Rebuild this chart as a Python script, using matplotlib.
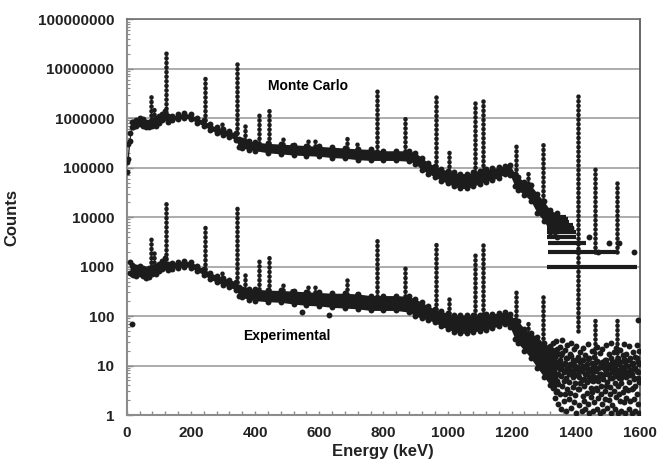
import numpy as np
import matplotlib
matplotlib.use("Agg")
import matplotlib.pyplot as plt
from matplotlib.ticker import FixedLocator, MultipleLocator, LogLocator, FuncFormatter, NullFormatter

plt.rcParams['font.family'] = ['Liberation Sans', 'DejaVu Sans']

# ---------------- data ----------------
energy_grid = [0, 5, 10, 15, 20, 30, 40, 50, 60, 70, 80, 90, 100, 110, 120, 130, 140, 160, 180, 200,
               220, 240, 260, 280, 300, 320, 340, 350, 360, 380, 400, 440, 480, 520, 560, 600, 640,
               680, 720, 760, 800, 840, 880, 900, 920, 940, 960, 980, 1000, 1020, 1040, 1060, 1080,
               1100, 1120, 1140, 1160, 1180, 1195, 1210, 1220, 1240, 1260, 1280, 1300, 1320, 1340]

mc_low = [8e4, 1.5e5, 3.5e5, 6.5e5, 6.5e5, 7e5, 7.5e5, 7e5, 6.5e5, 6.5e5, 7e5, 7e5, 8e5, 9e5, 1.0e6,
          8.5e5, 9e5, 9.5e5, 1.0e6, 9.5e5, 8e5, 7e5, 5.8e5, 5e5, 4.5e5, 4.2e5, 3.6e5, 2.6e5, 2.5e5,
          2.3e5, 2.2e5, 2.0e5, 1.9e5, 1.8e5, 1.75e5, 1.7e5, 1.6e5, 1.55e5, 1.45e5, 1.4e5, 1.4e5,
          1.4e5, 1.35e5, 1.2e5, 9e4, 7.6e4, 6.5e4, 5.5e4, 4.8e4, 4.2e4, 3.8e4, 3.8e4, 4.2e4, 4.7e4,
          5.2e4, 5.7e4, 6.2e4, 7.6e4, 7.2e4, 4.2e4, 3.5e4, 2.8e4, 2.1e4, 1.2e4, 8.5e3, 5e3, 4e3]
mc_high = [1.3e5, 3e5, 5e5, 8.5e5, 8.5e5, 9e5, 1.0e6, 9.5e5, 8.5e5, 8.5e5, 9e5, 1.0e6, 1.1e6, 1.2e6,
           1.4e6, 1.1e6, 1.1e6, 1.2e6, 1.25e6, 1.2e6, 1.0e6, 9e5, 7.5e5, 6.5e5, 6e5, 5.5e5, 5e5,
           3.8e5, 3.6e5, 3.5e5, 3.3e5, 3.1e5, 3.0e5, 2.9e5, 2.8e5, 2.7e5, 2.6e5, 2.5e5, 2.4e5,
           2.35e5, 2.2e5, 2.2e5, 2.2e5, 2.0e5, 1.6e5, 1.25e5, 1.1e5, 9.5e4, 8.7e4, 8e4, 7.6e4,
           7.6e4, 8e4, 8.7e4, 9.2e4, 9.7e4, 1.02e5, 1.1e5, 1.12e5, 7.6e4, 6.5e4, 5.2e4, 4.4e4,
           3.0e4, 2.1e4, 1.4e4, 1.2e4]

nan = float('nan')
exp_low = [nan, nan, 750, 700, 680, 650, 700, 640, 600, 620, 700, 700, 800, 900, 1000, 850, 900, 950,
           1000, 950, 800, 680, 560, 480, 430, 380, 340, 260, 240, 215, 205, 195, 190, 175, 165, 160,
           150, 145, 140, 130, 130, 130, 120, 100, 90, 83, 75, 62, 55, 48, 45, 45, 48, 50, 52, 58,
           62, 70, 60, 35, 28, 20, 14, 9, 6, 4, 3]
exp_high = [nan, nan, 1250, 1100, 1050, 1000, 1050, 950, 900, 950, 1000, 1050, 1150, 1300, 1500, 1150,
            1200, 1250, 1300, 1250, 1050, 900, 760, 660, 600, 540, 500, 380, 360, 360, 350, 335, 330,
            320, 310, 300, 290, 290, 280, 260, 260, 260, 250, 220, 190, 160, 140, 125, 115, 105, 105,
            105, 105, 105, 108, 112, 115, 120, 110, 85, 80, 55, 45, 38, 28, 25, 22]

# gamma lines (keV), Monte Carlo and experimental peak tops / bases (counts)
peak_energy = [75, 85, 122, 245, 296, 344, 368, 411, 444, 488, 515, 564, 586, 688, 719, 779, 867,
               964, 1005, 1086, 1112, 1212, 1250, 1299, 1408, 1460, 1528]
mc_peak_top = [2.8e6, 1.8e6, 2.1e7, 6.5e6, 8.5e5, 1.5e7, 7.8e5, 1.3e6, 1.6e6, 4.2e5, 3.2e5, 4.2e5,
               4.0e5, 4.4e5, 3.0e5, 3.5e6, 1.1e6, 3.2e6, 2.1e5, 2.1e6, 2.6e6, 3.0e5, 8.7e4, 3.0e5,
               3.1e6, 9.3e4, 5.5e4]
mc_peak_base = [9e5, 9.5e5, 1.3e6, 9e5, 6e5, 5e5, 3.6e5, 3.2e5, 3.1e5, 3e5, 2.9e5, 2.8e5, 2.75e5,
                2.5e5, 2.4e5, 2.2e5, 2.2e5, 1.1e5, 8.7e4, 8.2e4, 8.8e4, 7.5e4, 4.8e4, 2.2e4, 3000,
                2000, 2000]
exp_peak_top = [4000, 2300, 2.2e4, 7000, 900, 1.6e4, 830, 1450, 1800, 490, 390, 465, 420, 545, 340,
                3600, 1150, 3100, 245, 2100, 2700, 310, 76, 260, 3000, 90, 83]
exp_peak_base = [1000, 1000, 1400, 880, 600, 500, 360, 350, 335, 330, 320, 310, 305, 285, 280, 260,
                 250, 140, 115, 105, 108, 85, 45, 28, 50, 12, 12]

# Monte Carlo high-energy tail: quantised count rows (count level, first and last energy)
mc_row_counts = [1000, 2000, 3000, 4000, 5000, 6000, 7000, 8000, 9000, 10000]
mc_row_start = [1309, 1312, 1312, 1309, 1309, 1310, 1310, 1310, 1312, 1312]
mc_row_end = [1590, 1527, 1433, 1402, 1400, 1395, 1390, 1380, 1375, 1370]
mc_row_extra_E = [1580, 1502, 1440, 1535, 1384, 1470]
mc_row_extra_N = [2000, 3000, 4000, 3000, 6000, 2000]

# experimental high-energy tail: sparse counts
tail_E = [1330, 1334, 1338, 1342, 1346, 1350, 1354, 1358, 1362, 1366, 1370, 1374, 1378, 1382, 1386,
          1390, 1394, 1398, 1402, 1406, 1410, 1414, 1418, 1422, 1426, 1430, 1434, 1438, 1442, 1446,
          1450, 1454, 1458, 1462, 1466, 1470, 1474, 1478, 1482, 1486, 1490, 1494, 1498, 1502, 1506,
          1510, 1514, 1518, 1522, 1526, 1530, 1534, 1538, 1542, 1546, 1550, 1554, 1558, 1562, 1566,
          1570, 1574, 1578, 1582, 1586, 1590, 1594, 1598]
tail_hi = [28, 15, 31, 18, 12, 24, 16, 33, 11, 21, 14, 26, 9, 17, 29, 13, 22, 10, 25, 15, 8, 19, 13,
           23, 9, 16, 11, 27, 14, 8, 20, 10, 15, 12, 24, 9, 18, 11, 22, 10, 13, 26, 11, 17, 9, 28, 12,
           19, 10, 23, 14, 11, 21, 9, 16, 27, 12, 17, 10, 25, 14, 11, 19, 9, 15, 26, 12, 20]
tail_mid2 = [13.5, 8.8, 16.3, 10.2, 6.9, 12.7, 9.1, 17.8, 7.3, 11.1, 8.2, 14.4, 6.7, 10.6, 15.9, 7.8,
             12.4, 6.5, 13.2, 9.4, 5.9, 11.8, 7.6, 12.9, 5.4, 9.7, 6.8, 13.8, 8.4, 5.1, 11.3, 6.2,
             9.8, 7.7, 12.6, 5.8, 9.2, 6.6, 11.9, 6.3, 8.6, 13.1, 6.8, 9.6, 5.6, 14.2, 7.4, 10.4,
             6.1, 12.3, 8.1, 6.9, 11.7, 5.7, 9.3, 13.6, 7.2, 9.9, 6.4, 12.8, 8.3, 6.7, 11.1, 5.5,
             8.9, 14.1, 7.5, 10.6]
tail_mid = [9.4, 5.7, 11.2, 6.8, 4.3, 8.6, 6.2, 10.4, 4.9, 7.7, 5.5, 9.1, 4.6, 7.2, 10.1, 5.9, 8.3,
            4.4, 8.9, 6.6, 3.4, 7.9, 5.2, 9.6, 3.9, 6.9, 4.7, 8.1, 5.8, 3.6, 7.4, 4.8, 8.4, 5.6, 3.2,
            4.9, 6.7, 3.8, 9.3, 5.4, 3.1, 7.8, 4.6, 6.9, 3.7, 8.8, 5.5, 7.6, 4.5, 6.6, 3.9, 5.7, 7.9,
            4.4, 6.8, 8.7, 3.6, 5.9, 7.4, 4.6, 6.4, 3.3, 8.5, 5.3, 3.8, 7.6, 5.6, 4.7]
tail_lo = [3.6, 2.2, 2.9, 4.8, 1.7, 2.6, 1.3, 3.9, 1.9, 2.7, 1.2, 3.4, 2.1, 2.8, 1.4, 3.7, 1.8, 2.5,
           1.1, 3.3, 1.6, 4.4, 1.2, 2.4, 1.9, 1.3, 2.8, 1.7, 1.1, 2.3, 2.9, 1.2, 1.8, 3.5, 1.3, 2.2,
           1.1, 2.6, 1.7, 1.2, 2.1, 3.8, 1.4, 2.0, 2.7, 1.1, 1.6, 3.1, 1.3, 2.3, 1.1, 2.6, 1.9, 1.2,
           2.9, 1.8, 1.1, 2.2, 3.2, 1.3, 1.9, 1.1, 3.6, 2.1, 1.2, 2.7, 1.7, 1.1]
exp_outlier_E = [15, 1595, 545, 630]
exp_outlier_N = [70, 85, 120, 105]

yticks = [1, 10, 100, 1000, 10000, 100000, 1000000, 10000000, 100000000]
xticks = [0, 200, 400, 600, 800, 1000, 1200, 1400, 1600]

# ---------------- drawing ----------------
INK = '#1c1c1c'
DOT = 18
fig = plt.figure(figsize=(6.58, 4.67), dpi=100)
ax = fig.add_axes([0.1926, 0.1113, 0.7800, 0.8474])
ax.set_yscale('log')
ax.set_xlim(0, 1600)
ax.set_ylim(1, 1e8)

for y in yticks:
    ax.axhline(y, color='#a6a6a6', lw=1.3, zorder=0)

E = np.array(energy_grid, dtype=float)
for lo, hi in ((mc_low, mc_high), (exp_low, exp_high)):
    lo = np.array(lo, dtype=float)
    hi = np.array(hi, dtype=float)
    ax.fill_between(E, lo, hi, color=INK, lw=0, zorder=2)
    ax.scatter(E, lo, s=DOT, color=INK, lw=0, zorder=3)
    ax.scatter(E, hi, s=DOT, color=INK, lw=0, zorder=3)

for tops, bases in ((mc_peak_top, mc_peak_base), (exp_peak_top, exp_peak_base)):
    lc = ax.vlines(peak_energy, bases, tops, colors=INK, linewidth=3.3,
                   linestyles=[(0, (0.05, 0.95))], zorder=3)
    lc.set_capstyle('round')

ax.hlines(mc_row_counts, mc_row_start, mc_row_end, colors=INK, linewidth=3.0, zorder=3)
ax.scatter(mc_row_extra_E, mc_row_extra_N, s=DOT, color=INK, lw=0, zorder=3)

for arr in (tail_hi, tail_mid2, tail_mid, tail_lo):
    ax.scatter(tail_E, arr, s=DOT, color=INK, lw=0, zorder=3)
ax.scatter(exp_outlier_E, exp_outlier_N, s=DOT, color=INK, lw=0, zorder=3)

ax.text(565, 4.5e6, 'Monte Carlo', ha='center', va='center', fontsize=10, fontweight='bold')
ax.text(499, 40, 'Experimental', ha='center', va='center', fontsize=10, fontweight='bold')

# axes styling
ax.yaxis.set_major_locator(FixedLocator(yticks))
ax.yaxis.set_major_formatter(FuncFormatter(lambda v, p: f'{int(round(v))}'))
ax.yaxis.set_minor_locator(LogLocator(base=10, subs=np.arange(2, 10), numticks=20))
ax.yaxis.set_minor_formatter(NullFormatter())
ax.xaxis.set_major_locator(FixedLocator(xticks))
ax.xaxis.set_minor_locator(MultipleLocator(40))

ax.tick_params(axis='both', which='both', direction='in', color='#8c8c8c')
ax.tick_params(axis='y', which='major', length=4, width=1, pad=9, labelsize=11)
ax.tick_params(axis='y', which='minor', length=2.5, width=0.8)
ax.tick_params(axis='x', which='major', length=3, width=1, pad=8, labelsize=11)
ax.tick_params(axis='x', which='minor', length=3, width=1)
for lab in ax.get_xticklabels() + ax.get_yticklabels():
    lab.set_fontweight('bold')
    lab.set_color('#222222')

for side in ('left', 'bottom'):
    ax.spines[side].set_color('#8c8c8c')
    ax.spines[side].set_linewidth(1.5)
ax.spines['top'].set_color('#707070')
ax.spines['top'].set_linewidth(1.2)
ax.spines['right'].set_color('#5a5a5a')
ax.spines['right'].set_linewidth(1.3)

ax.set_xlabel('Energy (keV)', fontsize=12, fontweight='bold', labelpad=3, color='#222222')
ax.set_ylabel('Counts', fontsize=12, fontweight='bold', color='#222222')
ax.yaxis.set_label_coords(-0.21, 0.5)

fig.savefig('out.png', dpi=100)
